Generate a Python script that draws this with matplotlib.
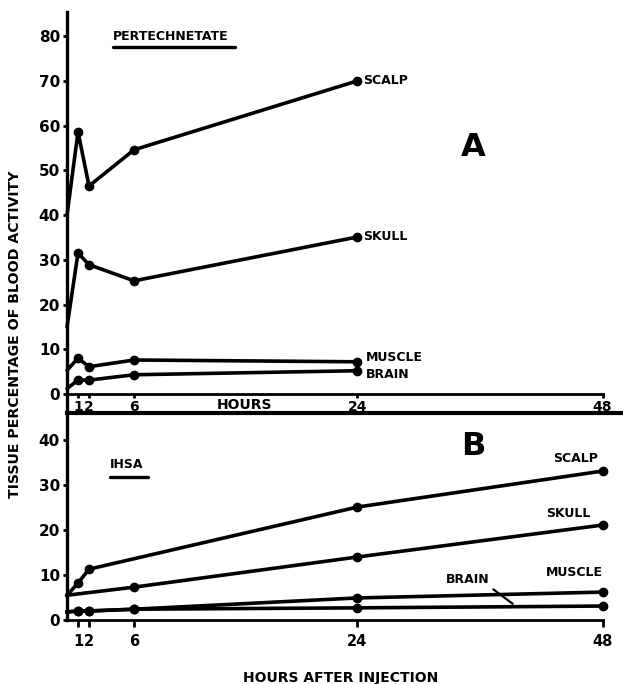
import numpy as np
import matplotlib
matplotlib.use("Agg")
from matplotlib import pyplot as plt

# panel A - pertechnetate
hours_a = [0, 1, 2, 6, 24]
scalp_a = [40.0, 58.6, 46.5, 54.6, 70.0]
skull_a = [15.0, 31.5, 28.9, 25.3, 35.1]
muscle_a = [5.3, 8.0, 6.1, 7.6, 7.2]
brain_a = [1.2, 3.1, 3.1, 4.3, 5.2]

# panel B - IHSA
hours_b_scalp = [0, 1, 2, 24, 48]
scalp_b = [5.5, 8.2, 11.3, 25.1, 33.1]
hours_b_skull = [0, 6, 24, 48]
skull_b = [5.5, 7.3, 14.0, 21.1]
hours_b = [0, 1, 2, 6, 24, 48]
muscle_b = [1.8, 2.0, 2.0, 2.4, 4.9, 6.2]
brain_b = [1.8, 2.0, 2.0, 2.4, 2.7, 3.1]

xticks = [1, 2, 6, 24, 48]
yticks_a = [0, 10, 20, 30, 40, 50, 60, 70, 80]
yticks_b = [0, 10, 20, 30, 40]

# the hand drawn time axis is not quite linear
knot_h = [-10, 0, 1, 2, 6, 24, 48, 100]
knot_p = [-120, 0, 11, 22, 67, 290, 535, 1065]
fwd = lambda x: np.interp(x, knot_h, knot_p)
inv = lambda p: np.interp(p, knot_p, knot_h)

plt.rcParams['font.family'] = 'DejaVu Sans'
plt.rcParams['font.weight'] = 'bold'

fig = plt.figure(figsize=(6.23, 6.84), dpi=100)
W, H = 623.0, 684.0
ax1 = fig.add_axes([67/W, 1-413/H, 556/W, 401/H])
ax2 = fig.add_axes([67/W, 1-620/H, 556/W, 207/H])

lw = 2.6
ms = 6
for ax in (ax1, ax2):
    ax.set_xscale('function', functions=(fwd, inv))
    ax.set_xlim(0, 50)
    ax.set_xticks(xticks)
    ax.set_xticklabels([str(t) for t in xticks], fontsize=10.5, fontweight='bold')
    ax.spines['right'].set_visible(False)
    ax.spines['left'].set_linewidth(2.4)
    ax.spines['bottom'].set_linewidth(2.0)
    ax.spines['bottom'].set_bounds(0, 48)
    ax.tick_params(axis='y', length=3, width=2, labelsize=11, pad=2)
    ax.patch.set_alpha(0)

# top panel
ax1.set_ylim(-4.25, 85.4)
ax1.set_yticks(yticks_a)
ax1.set_yticklabels([str(t) for t in yticks_a], fontweight='bold')
ax1.spines['top'].set_visible(False)
ax1.spines['bottom'].set_position(('data', 0))
ax1.tick_params(axis='x', length=3, width=2, pad=1)

for vals in (scalp_a, skull_a, muscle_a, brain_a):
    ax1.plot(hours_a, vals, color='black', lw=lw, marker='o', ms=ms,
             markevery=slice(1, None), solid_capstyle='round', clip_on=False)

ax1.annotate('SCALP', xy=(hours_a[-1], scalp_a[-1]), xytext=(4, 0),
             textcoords='offset points', va='center', fontsize=9)
ax1.annotate('SKULL', xy=(hours_a[-1], skull_a[-1]), xytext=(4, 0),
             textcoords='offset points', va='center', fontsize=9)
ax1.annotate('MUSCLE', xy=(hours_a[-1], muscle_a[-1]), xytext=(6, 3),
             textcoords='offset points', va='center', fontsize=9)
ax1.annotate('BRAIN', xy=(hours_a[-1], brain_a[-1]), xytext=(6, -3),
             textcoords='offset points', va='center', fontsize=9)

ax1.text(0.083, 0.94, 'PERTECHNETATE', transform=ax1.transAxes, fontsize=9,
         ha='left', va='center')
ax1.plot([0.083, 0.302], [0.913, 0.913], transform=ax1.transAxes,
         color='black', lw=2.4, solid_capstyle='round')
ax1.text(0.73, 0.663, 'A', transform=ax1.transAxes, fontsize=23,
         ha='center', va='center')
ax1.text(0.32, -2.4, 'HOURS', transform=ax1.get_yaxis_transform(),
         fontsize=10, ha='center', va='center')

# bottom panel
ax2.set_ylim(0, 46)
ax2.set_yticks(yticks_b)
ax2.set_yticklabels([str(t) for t in yticks_b], fontweight='bold')
ax2.spines['top'].set_linewidth(3.0)
ax2.tick_params(axis='x', length=5, width=2, pad=5)

ax2.plot(hours_b_scalp, scalp_b, color='black', lw=lw, marker='o', ms=ms,
         markevery=slice(1, None), clip_on=False)
ax2.plot(hours_b_skull, skull_b, color='black', lw=lw, marker='o', ms=ms,
         markevery=slice(1, None), clip_on=False)
ax2.plot(hours_b, muscle_b, color='black', lw=lw, marker='o', ms=ms,
         markevery=slice(1, None), clip_on=False)
ax2.plot(hours_b, brain_b, color='black', lw=lw, marker='o', ms=ms,
         markevery=slice(1, None), clip_on=False)

ax2.annotate('SCALP', xy=(hours_b_scalp[-1], scalp_b[-1]), xytext=(-3, 9),
             textcoords='offset points', ha='right', va='center', fontsize=9)
ax2.annotate('SKULL', xy=(hours_b_skull[-1], skull_b[-1]), xytext=(-9, 8),
             textcoords='offset points', ha='right', va='center', fontsize=9)
ax2.annotate('MUSCLE', xy=(hours_b[-1], muscle_b[-1]), xytext=(0, 14),
             textcoords='offset points', ha='right', va='center', fontsize=9)
ax2.annotate('BRAIN', xy=(39.2, 3.6), xytext=(34.8, 8.9), ha='center',
             va='center', fontsize=9,
             arrowprops=dict(arrowstyle='-', lw=1.6, color='black',
                             relpos=(1, 0), shrinkA=1, shrinkB=0))

ax2.text(0.077, 0.749, 'IHSA', transform=ax2.transAxes, fontsize=9,
         ha='left', va='center')
ax2.plot([0.077, 0.146], [0.691, 0.691], transform=ax2.transAxes,
         color='black', lw=2.4, solid_capstyle='round')
ax2.text(0.73, 0.836, 'B', transform=ax2.transAxes, fontsize=23,
         ha='center', va='center')

fig.text(15/W, 1-334/H, 'TISSUE PERCENTAGE OF BLOOD ACTIVITY', rotation=90,
         ha='center', va='center', fontsize=10.2)
fig.text(341/W, 1-671/H, 'HOURS AFTER INJECTION', ha='center', va='top',
         fontsize=10)

fig.savefig('out.png', dpi=100)
